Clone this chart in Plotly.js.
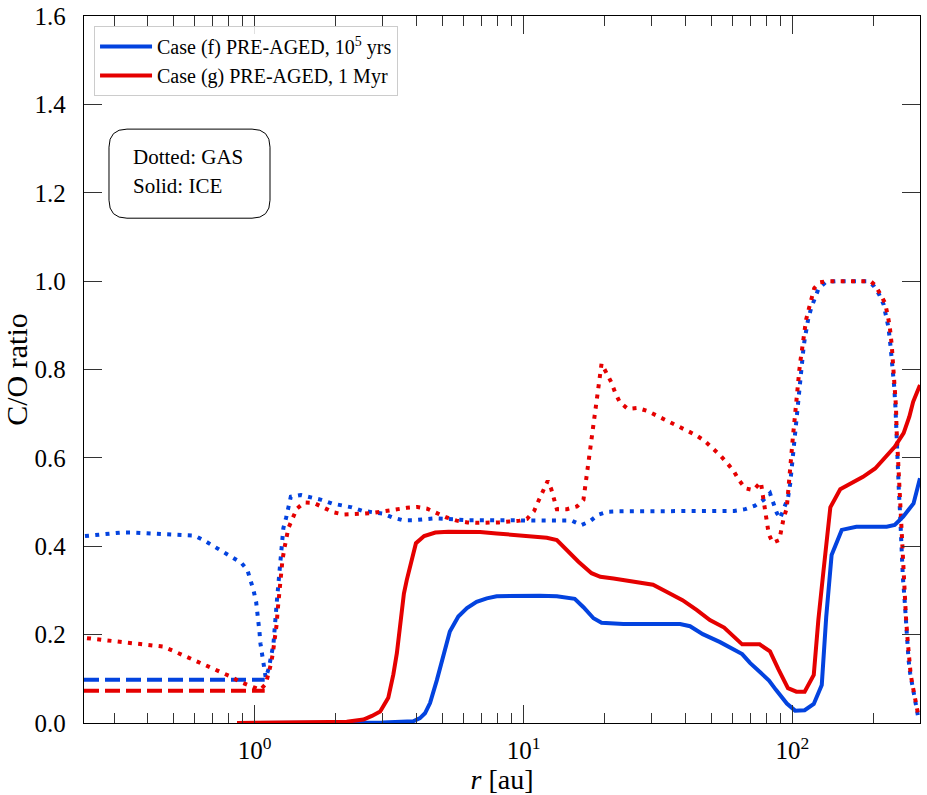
<!DOCTYPE html>
<html>
<head>
<meta charset="utf-8">
<script src="https://cdn.plot.ly/plotly-3.0.1.min.js"></script>
<style>html,body{margin:0;padding:0;background:#fff;}#chart{width:927px;height:795px;}</style>
</head>
<body>
<div id="chart"></div>
<script>
// ---- Data (r in au, C/O ratio) ----
const xMin = 0.232, xMax = 298;

// Dashed segments inside ~1 au
const dashF_r = [0.232, 1.09];
const dashF_v = [0.098, 0.098];
const dashG_r = [0.232, 1.09];
const dashG_v = [0.073, 0.073];

// GAS, Case (f) - dotted blue
const gasF_r = [0.234,0.264,0.29,0.319,0.349,0.418,0.458,0.502,0.548,0.598,0.649,0.703,0.762,0.823,0.891,0.94,0.968,0.99,1.013,1.027,1.042,1.051,1.064,1.073,1.087,1.10,1.13,1.155,1.175,1.209,1.23,1.247,1.265,1.279,1.31,1.335,1.363,1.485,1.622,1.772,1.935,2.11,2.30,2.52,2.75,3.00,3.26,3.55,3.89,4.27,4.66,5.10,5.60,6.11,6.69,8.84,9.65,10.6,11.6,12.7,13.8,15.1,16.4,17.6,18.9,20.5,22.4,60.7,66.7,72.6,78.0,82.5,85.0,87.5,89.9,92.6,96.2,98.0,99.2,100.3,101.4,102.4,103.4,104.3,105.3,106.3,107.4,108.6,109.8,111,112.6,114.5,117.5,121,125,133,145,190,200,210,218,223,227.5,231.5,235.5,239,241.5,243,245,247.3,248.7,251,252.8,255,257.3,260.8,263.4,267.2,270.2,274,277.8,282,286.8,292.5];
const gasF_v = [0.423,0.427,0.428,0.431,0.431,0.429,0.428,0.426,0.427,0.424,0.413,0.400,0.389,0.376,0.363,0.346,0.324,0.301,0.274,0.248,0.207,0.180,0.158,0.135,0.110,0.102,0.125,0.150,0.179,0.274,0.324,0.369,0.417,0.441,0.465,0.487,0.512,0.516,0.511,0.505,0.497,0.493,0.488,0.480,0.477,0.474,0.465,0.459,0.459,0.462,0.463,0.462,0.460,0.459,0.459,0.459,0.458,0.459,0.459,0.460,0.460,0.458,0.448,0.456,0.471,0.478,0.479,0.480,0.484,0.492,0.505,0.520,0.497,0.475,0.463,0.486,0.509,0.540,0.575,0.605,0.638,0.668,0.695,0.722,0.748,0.773,0.800,0.823,0.846,0.868,0.890,0.915,0.940,0.963,0.983,0.998,1.0,1.0,0.99,0.97,0.948,0.92,0.895,0.853,0.808,0.76,0.715,0.66,0.615,0.57,0.525,0.48,0.428,0.383,0.33,0.285,0.24,0.188,0.143,0.112,0.09,0.067,0.045,0.018];

// GAS, Case (g) - dotted red
const gasG_r = [0.238,0.264,0.29,0.319,0.349,0.383,0.418,0.455,0.499,0.541,0.587,0.64,0.695,0.755,0.816,0.883,0.956,1.048,1.10,1.125,1.149,1.169,1.185,1.199,1.209,1.216,1.226,1.233,1.244,1.254,1.269,1.29,1.31,1.335,1.435,1.53,1.66,1.80,1.96,2.14,2.34,2.57,2.80,3.08,3.36,3.68,4.03,4.38,4.76,5.18,5.64,6.18,6.75,7.38,8.09,8.84,9.69,10.3,10.95,11.37,11.8,12.3,12.67,12.96,13.3,14.5,15.8,16.7,16.9,17.1,17.3,17.5,17.7,17.9,18.1,18.3,18.6,18.8,19.0,19.3,19.5,20.3,21.2,21.9,22.8,24.4,26.5,28.9,31.4,34.2,37.1,40.2,43.6,47.0,50.4,53.8,57.0,60.5,63.2,66.8,71.5,76.3,78.4,79.5,80.6,81.6,84.4,89.3,90.9,92.6,95.2,96.4,97.3,98.3,99.3,100.3,101.3,102.2,103.1,104.1,105.1,106.1,107.2,108.4,109.6,110.8,112.4,115,117.8,120.5,126,135,195,203,213,221,226,230,234,237,240.5,242.6,243.9,246,248.3,249.5,251.8,253.6,255.8,258.1,261.8,264.2,268,271,274.9,278.7,283,287.8,293.6];
const gasG_v = [0.192,0.189,0.186,0.183,0.180,0.178,0.175,0.173,0.163,0.154,0.143,0.134,0.124,0.114,0.105,0.093,0.084,0.075,0.088,0.110,0.133,0.158,0.180,0.203,0.226,0.250,0.274,0.299,0.324,0.348,0.369,0.395,0.418,0.441,0.485,0.499,0.498,0.487,0.477,0.472,0.472,0.474,0.476,0.480,0.484,0.487,0.489,0.485,0.475,0.465,0.458,0.454,0.453,0.453,0.454,0.456,0.458,0.462,0.480,0.503,0.525,0.548,0.530,0.507,0.484,0.484,0.490,0.505,0.529,0.553,0.576,0.600,0.625,0.648,0.672,0.695,0.720,0.744,0.767,0.790,0.813,0.793,0.771,0.748,0.726,0.711,0.713,0.706,0.695,0.685,0.674,0.662,0.652,0.639,0.623,0.606,0.589,0.570,0.550,0.531,0.527,0.545,0.497,0.475,0.450,0.428,0.408,0.414,0.437,0.462,0.486,0.531,0.557,0.585,0.615,0.645,0.672,0.700,0.725,0.750,0.775,0.800,0.822,0.845,0.868,0.890,0.913,0.937,0.961,0.984,0.997,1.0,1.0,0.991,0.969,0.950,0.923,0.897,0.855,0.810,0.761,0.716,0.663,0.618,0.573,0.527,0.482,0.429,0.384,0.331,0.286,0.240,0.188,0.143,0.112,0.090,0.067,0.045,0.018];

// ICE, Case (f) - solid blue
const iceF_r = [0.87,2.0,3.0,3.89,4.12,4.30,4.49,4.76,5.04,5.32,5.72,6.16,6.69,7.3,7.94,9.15,10.6,11.5,13.3,15.5,16.7,18.2,19.5,23.5,38.2,41.6,46.4,53.8,65,69.5,75.5,81.8,86.8,95.3,102.3,106.6,111,120,128.5,133.5,139.8,152.5,172.8,224,240,258,282,298];
const iceF_v = [0.0,0.0,0.001,0.004,0.011,0.022,0.045,0.097,0.154,0.207,0.241,0.260,0.274,0.282,0.287,0.288,0.288,0.288,0.287,0.281,0.262,0.237,0.227,0.224,0.224,0.219,0.201,0.183,0.156,0.136,0.116,0.096,0.075,0.044,0.028,0.028,0.029,0.043,0.086,0.240,0.380,0.437,0.444,0.444,0.448,0.467,0.497,0.554];

// ICE, Case (g) - solid red
const iceG_r = [0.86,1.5,1.9,2.2,2.54,2.73,2.93,3.14,3.28,3.38,3.50,3.59,3.68,3.84,3.98,4.27,4.70,5.25,5.98,6.89,7.94,9.15,10.7,12.2,13.3,14.5,16.0,17.9,19.3,21.6,25.0,30.3,34.0,39.0,44.0,49.3,55.7,65.0,75.5,82.5,88.6,96.2,103.4,111,120,124.8,130.5,138.3,150.5,164.5,183,203,220,240,259,272,281,298];
const iceG_v = [0.0,0.0,0.002,0.003,0.008,0.016,0.026,0.057,0.110,0.158,0.233,0.293,0.324,0.369,0.407,0.423,0.431,0.433,0.433,0.432,0.429,0.426,0.423,0.419,0.414,0.391,0.365,0.339,0.331,0.327,0.320,0.313,0.297,0.278,0.256,0.233,0.216,0.178,0.178,0.162,0.122,0.079,0.071,0.071,0.109,0.233,0.346,0.488,0.529,0.542,0.557,0.576,0.599,0.625,0.656,0.693,0.727,0.765];

const legendF = 'Case (f) PRE-AGED, 10<sup>5</sup> yrs';
const legendG = 'Case (g) PRE-AGED, 1 Myr';
const xTickVals = [1, 10, 100];
const xTickText = ['10<sup>0</sup>', '10<sup>1</sup>', '10<sup>2</sup>'];
const xMinorVals = [0.3,0.4,0.5,0.6,0.7,0.8,0.9,2,3,4,5,6,7,8,9,20,30,40,50,60,70,80,90,200];

const BLUE = '#0343df', RED = '#e50000';
const FONT = 'Liberation Serif';

const traces = [
  {x: dashF_r, y: dashF_v, mode:'lines', line:{color:BLUE, width:4, dash:'15px,6px'}, showlegend:false, hoverinfo:'skip'},
  {x: dashG_r, y: dashG_v, mode:'lines', line:{color:RED, width:4, dash:'15px,6px'}, showlegend:false, hoverinfo:'skip'},
  {x: gasF_r, y: gasF_v, mode:'lines', line:{color:BLUE, width:4, dash:'4px,6.3px'}, showlegend:false},
  {x: gasG_r, y: gasG_v, mode:'lines', line:{color:RED, width:4, dash:'4px,6.3px'}, showlegend:false},
  {x: iceF_r, y: iceF_v, mode:'lines', name: legendF, line:{color:BLUE, width:4}, legendrank:1},
  {x: iceG_r, y: iceG_v, mode:'lines', name: legendG, line:{color:RED, width:4}, legendrank:2}
];

// rounded box for the annotation (paper coords)
function roundRect(x0, x1, y0, y1, rx, ry) {
  return `M ${x0+rx},${y1} L ${x1-rx},${y1} Q ${x1},${y1} ${x1},${y1-ry} L ${x1},${y0+ry} Q ${x1},${y0} ${x1-rx},${y0} L ${x0+rx},${y0} Q ${x0},${y0} ${x0},${y0+ry} L ${x0},${y1-ry} Q ${x0},${y1} ${x0+rx},${y1} Z`;
}

const layout = {
  width: 927, height: 795,
  margin: {l:84, r:7, t:16, b:72, pad:0},
  paper_bgcolor:'#fff', plot_bgcolor:'#fff',
  font: {family: FONT, color:'#000'},
  showlegend: true,
  legend: {
    x: 0.012, y: 0.986, xanchor:'left', yanchor:'top',
    bgcolor:'rgba(255,255,255,0.85)', bordercolor:'#cccccc', borderwidth:1,
    font:{family:FONT, size:20, color:'#000'}, itemwidth: 52, tracegroupgap: 0
  },
  xaxis: {
    type:'log', range:[Math.log10(xMin), Math.log10(xMax)],
    tickmode:'array', tickvals: xTickVals, ticktext: xTickText,
    ticks:'inside', ticklen:18, tickwidth:1, tickcolor:'#333',
    minor: {tickmode:'array', tickvals: xMinorVals, ticks:'inside', ticklen:10, tickwidth:1, tickcolor:'#333', showgrid:false},
    showline:true, linecolor:'#000', linewidth:1.3, mirror:'ticks',
    showgrid:false, zeroline:false,
    tickfont:{family:FONT, size:25, color:'#000'}, ticklabelstandoff: 5,
    title:{text:'<i>r</i> [au]', font:{family:FONT, size:28, color:'#000'}, standoff: 3}
  },
  yaxis: {
    range:[0, 1.6], tick0:0, dtick:0.2, tickformat:'.1f',
    ticks:'inside', ticklen:18, tickwidth:1, tickcolor:'#333',
    showline:true, linecolor:'#000', linewidth:1.3, mirror:'ticks',
    showgrid:false, zeroline:false,
    tickfont:{family:FONT, size:25, color:'#000'}, ticklabelstandoff: 12,
    title:{text:'C/O ratio', font:{family:FONT, size:30, color:'#000'}, standoff: 8}
  },
  shapes: [
    {type:'path', xref:'paper', yref:'paper', path: roundRect(0.0299, 0.2225, 0.714, 0.840, 0.0215, 0.0255),
     line:{color:'#000', width:1}, fillcolor:'rgba(255,255,255,0.9)', layer:'above'}
  ],
  annotations: [
    {xref:'paper', yref:'paper', x:0.056, y:0.8006, xanchor:'left', yanchor:'middle', showarrow:false,
     text:'Dotted: GAS', font:{family:FONT, size:21, color:'#000'}},
    {xref:'paper', yref:'paper', x:0.056, y:0.7595, xanchor:'left', yanchor:'middle', showarrow:false,
     text:'Solid: ICE', font:{family:FONT, size:21, color:'#000'}}
  ]
};

Plotly.newPlot('chart', traces, layout, {displayModeBar:false, staticPlot:true});
</script>
</body>
</html>
